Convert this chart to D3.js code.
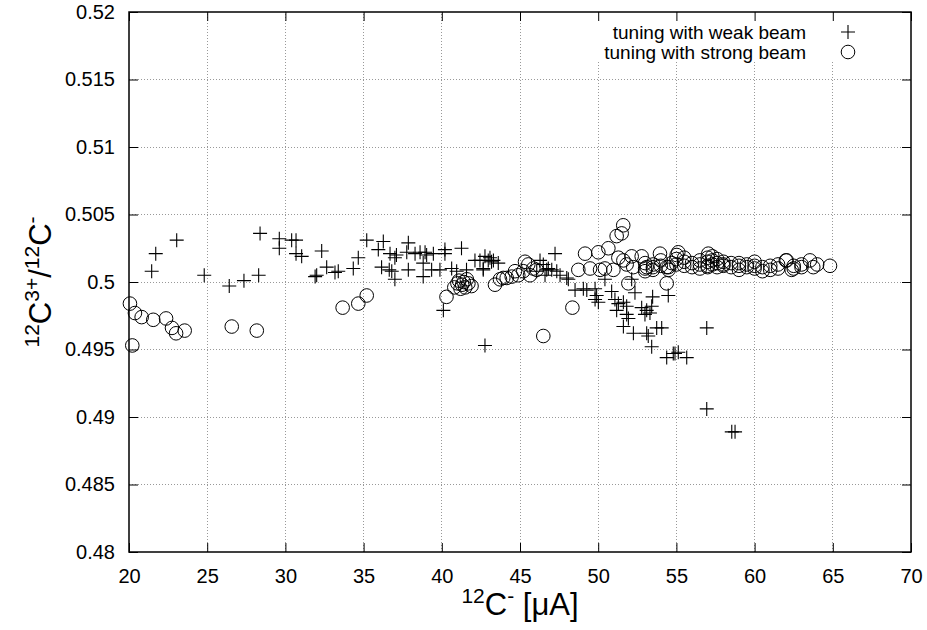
<!DOCTYPE html>
<html>
<head>
<meta charset="utf-8">
<script src="https://cdn.jsdelivr.net/npm/d3@7"></script>
<style>
  body { margin: 0; background: #fff; }
  svg { display: block; font-family: "Liberation Sans", Arial, sans-serif; }
</style>
</head>
<body>
<div id="chart"></div>
<script>
// ---- data: tuning with weak beam (+)
var weakCurrent = [21.45, 21.71, 23.05, 24.81, 26.41, 27.35, 28.29, 28.38, 29.61, 29.61,
    30.40, 30.68, 30.68, 31.04, 32.32, 32.0, 31.9, 32.64, 33.17, 33.38,
    34.34, 34.66, 35.2, 35.94, 36.26, 36.15, 36.69, 37.0, 37.1, 36.64,
    36.8, 37.0, 37.86, 37.76, 37.86, 38.29, 38.61, 38.93, 39.03, 39.46,
    38.81, 38.81, 39.35, 39.88, 40.2, 40.2, 41.26, 40.63, 40.95, 42.12,
    42.44, 42.97, 43.18, 41.58, 42.65, 40.1, 42.76, 42.76, 43.08, 43.3,
    43.61, 42.65, 47.24, 46.28, 46.49, 46.71, 47.03, 47.35, 47.56, 47.99,
    48.09, 46.07, 46.81, 46.6, 48.52, 49.05, 49.27, 49.8, 49.9, 49.8,
    50.01, 50.43, 50.86, 51.07, 51.29, 51.61, 51.82, 52.14, 52.35, 51.18,
    51.82, 51.93, 51.61, 52.25, 52.78, 53.1, 53.31, 53.42, 52.99, 53.1,
    53.2, 53.42, 53.74, 54.06, 53.48, 54.48, 54.38, 54.8, 54.91, 55.12,
    55.66, 56.94, 56.94, 58.54, 58.75];
var weakRatio = [0.5008, 0.5021, 0.5031, 0.5005, 0.4997, 0.5001, 0.5005, 0.5036, 0.5032, 0.5025,
    0.5031, 0.5031, 0.5021, 0.5019, 0.5023, 0.5005, 0.5004, 0.5011, 0.5007, 0.5008,
    0.5010, 0.5018, 0.5031, 0.5024, 0.5030, 0.5011, 0.5021, 0.5018, 0.5020, 0.5009,
    0.5008, 0.5002, 0.5029, 0.5022, 0.5009, 0.5021, 0.5022, 0.5022, 0.5020, 0.5021,
    0.5014, 0.5004, 0.5009, 0.5009, 0.5024, 0.5021, 0.5025, 0.5010, 0.5008, 0.5016,
    0.5016, 0.5016, 0.5015, 0.5009, 0.5009, 0.4979, 0.4953, 0.5019, 0.5018, 0.5016,
    0.5014, 0.5010, 0.5021, 0.5016, 0.5013, 0.5009, 0.5009, 0.5008, 0.5005, 0.5003,
    0.5002, 0.5008, 0.5010, 0.5005, 0.4994, 0.4995, 0.4994, 0.4995, 0.4990, 0.4987,
    0.4985, 0.5002, 0.4993, 0.4987, 0.4984, 0.4985, 0.4982, 0.5002, 0.4992, 0.4979,
    0.4976, 0.4973, 0.4967, 0.4962, 0.4981, 0.4979, 0.4977, 0.4982, 0.4976, 0.4962,
    0.4960, 0.4952, 0.4966, 0.4966, 0.4989, 0.4990, 0.4944, 0.4947, 0.4947, 0.4948,
    0.4944, 0.4966, 0.4906, 0.4889, 0.4889];

// ---- data: tuning with strong beam (o)
var strongCurrent = [20.06, 20.38, 20.81, 21.55, 22.37, 22.75, 23.01, 23.56, 20.21, 26.57,
    28.17, 33.66, 34.66, 35.2, 40.3, 40.8, 41.0, 41.1, 41.3, 41.4,
    41.5, 41.6, 41.7, 41.9, 41.2, 43.4, 43.72, 43.93, 44.15, 44.47,
    44.68, 44.89, 45.21, 45.32, 45.53, 45.64, 45.85, 46.07, 48.35, 46.49,
    48.73, 49.16, 49.48, 50.01, 50.12, 50.65, 50.43, 50.97, 51.29, 51.61,
    51.82, 52.14, 52.24, 52.78, 53.1, 53.52, 53.95, 54.38, 54.7, 55.02,
    51.6, 51.5, 51.18, 51.93, 54.38, 55.12, 57.04,
    53.0, 53.0, 53.0, 53.5, 53.5, 54.0, 54.0, 54.5, 54.5, 55.0,
    55.0, 55.5, 55.5, 55.5, 56.0, 56.0, 56.5, 56.5, 56.5, 57.0,
    57.0, 57.0, 57.0, 57.3, 57.3, 57.3, 57.6, 57.6, 57.6, 58.0,
    58.0, 58.0, 58.5, 58.5, 59.0, 59.0, 59.0, 59.5, 59.5, 60.0,
    60.0, 60.0, 60.5, 60.5, 61.0, 61.0, 61.5, 61.5, 62.0, 62.5,
    62.5, 63.0, 63.0, 64.0, 64.82, 63.54, 63.75, 62.05, 62.37];
var strongRatio = [0.4984, 0.4977, 0.4974, 0.4972, 0.4973, 0.4966, 0.4962, 0.4964, 0.4953, 0.4967,
    0.4964, 0.4981, 0.4984, 0.4990, 0.4989, 0.4996, 0.4999, 0.5001, 0.4998, 0.5000,
    0.4996, 0.5002, 0.4999, 0.4997, 0.4995, 0.4998, 0.5002, 0.5003, 0.5003, 0.5004,
    0.5008, 0.5005, 0.5008, 0.5015, 0.5013, 0.5005, 0.5010, 0.5009, 0.4981, 0.4960,
    0.5009, 0.5021, 0.5010, 0.5022, 0.5009, 0.5025, 0.5010, 0.5009, 0.5018, 0.5016,
    0.5013, 0.5019, 0.5011, 0.5019, 0.5011, 0.5013, 0.5021, 0.5011, 0.5014, 0.5020,
    0.5042, 0.5036, 0.5034, 0.4999, 0.4999, 0.5022, 0.5021,
    0.5010, 0.5014, 0.5008, 0.5011, 0.5009, 0.5012, 0.5016, 0.5011, 0.5009, 0.5013,
    0.5017, 0.5012, 0.5015, 0.5018, 0.5011, 0.5014, 0.5013, 0.5016, 0.5010, 0.5015,
    0.5018, 0.5012, 0.5011, 0.5013, 0.5016, 0.5019, 0.5014, 0.5011, 0.5017, 0.5012,
    0.5015, 0.5013, 0.5011, 0.5014, 0.5012, 0.5009, 0.5014, 0.5011, 0.5013, 0.5010,
    0.5015, 0.5012, 0.5011, 0.5008, 0.5012, 0.5009, 0.5013, 0.5010, 0.5016, 0.5012,
    0.5010, 0.5011, 0.5013, 0.5013, 0.5012, 0.5016, 0.5011, 0.5016, 0.5009];

var xTicks = [20, 25, 30, 35, 40, 45, 50, 55, 60, 65, 70];
var yTicks = [0.48, 0.485, 0.49, 0.495, 0.5, 0.505, 0.51, 0.515, 0.52];
var legendLabels = ['tuning with weak beam', 'tuning with strong beam'];

var chart_width  = 927;
var chart_height = 630;
var margin = { top: 12, right: 16, bottom: 78, left: 129 };

var svg = d3.select('#chart')
    .append('svg')
    .attr('width', chart_width)
    .attr('height', chart_height);

// scales
var x_scale = d3.scaleLinear()
    .domain([20, 70])
    .range([margin.left, chart_width - margin.right]);

var y_scale = d3.scaleLinear()
    .domain([0.48, 0.52])
    .range([chart_height - margin.bottom, margin.top]);

// grid (dotted)
var grid = svg.append('g').attr('class', 'grid');
grid.selectAll('line.gx')
    .data(xTicks.slice(1, -1))
    .enter().append('line')
    .attr('x1', function(d) { return x_scale(d); })
    .attr('x2', function(d) { return x_scale(d); })
    .attr('y1', y_scale(0.48))
    .attr('y2', y_scale(0.52));
grid.selectAll('line.gy')
    .data(yTicks.slice(1, -1))
    .enter().append('line')
    .attr('x1', x_scale(20))
    .attr('x2', x_scale(70))
    .attr('y1', function(d) { return y_scale(d); })
    .attr('y2', function(d) { return y_scale(d); });
grid.selectAll('line')
    .attr('stroke', '#999')
    .attr('stroke-width', 1)
    .attr('stroke-dasharray', '1,2')
    .attr('shape-rendering', 'crispEdges');

// legend background hides grid
svg.append('rect')
    .attr('x', 598)
    .attr('y', margin.top + 1)
    .attr('width', x_scale(70) - 599)
    .attr('height', 47)
    .attr('fill', '#fff');

// axes (ticks inward, mirrored)
var fmt = function(d) { return String(+d.toFixed(3)); };

svg.append('g')
    .attr('class', 'x-axis')
    .attr('transform', 'translate(0,' + y_scale(0.48) + ')')
    .call(d3.axisBottom(x_scale).tickValues(xTicks).tickSizeInner(-9).tickSizeOuter(0).tickPadding(17).tickFormat(fmt));

svg.append('g')
    .attr('transform', 'translate(0,' + y_scale(0.52) + ')')
    .call(d3.axisTop(x_scale).tickValues(xTicks).tickSizeInner(-9).tickSizeOuter(0).tickFormat(''));

svg.append('g')
    .attr('class', 'y-axis')
    .attr('transform', 'translate(' + x_scale(20) + ',0)')
    .call(d3.axisLeft(y_scale).tickValues(yTicks).tickSizeInner(-9).tickSizeOuter(0).tickPadding(14).tickFormat(fmt));

svg.append('g')
    .attr('transform', 'translate(' + x_scale(70) + ',0)')
    .call(d3.axisRight(y_scale).tickValues(yTicks).tickSizeInner(-9).tickSizeOuter(0).tickFormat(''));

svg.selectAll('.domain').remove();
svg.selectAll('.tick line').attr('stroke', '#000').attr('stroke-width', 1);
svg.selectAll('.tick text')
    .attr('fill', '#000')
    .style('font-size', '20px')
    .style('font-family', '"Liberation Sans", Arial, sans-serif');

// frame
svg.append('rect')
    .attr('x', x_scale(20))
    .attr('y', y_scale(0.52))
    .attr('width', x_scale(70) - x_scale(20))
    .attr('height', y_scale(0.48) - y_scale(0.52))
    .attr('fill', 'none')
    .attr('stroke', '#000')
    .attr('stroke-width', 1.5);

// points
var weak = weakCurrent.map(function(d, i) { return [d, weakRatio[i]]; });
var strong = strongCurrent.map(function(d, i) { return [d, strongRatio[i]]; });

svg.append('g')
    .selectAll('path')
    .data(weak)
    .enter().append('path')
    .attr('transform', function(d) { return 'translate(' + x_scale(d[0]) + ',' + y_scale(d[1]) + ')'; })
    .attr('d', 'M-7,0H7M0,-7V7')
    .attr('stroke', '#000')
    .attr('stroke-width', 1.1)
    .attr('fill', 'none');

svg.append('g')
    .selectAll('circle')
    .data(strong)
    .enter().append('circle')
    .attr('cx', function(d) { return x_scale(d[0]); })
    .attr('cy', function(d) { return y_scale(d[1]); })
    .attr('r', 6.8)
    .attr('stroke', '#000')
    .attr('stroke-width', 1)
    .attr('fill', 'none');

// legend
var legend = svg.append('g').attr('class', 'legend');
legend.selectAll('text')
    .data(legendLabels)
    .enter().append('text')
    .attr('x', 806)
    .attr('y', function(d, i) { return 39 + i * 20; })
    .attr('text-anchor', 'end')
    .style('font-size', '19px')
    .text(function(d) { return d; });
legend.append('path')
    .attr('d', 'M841,32H855M848,25V39')
    .attr('stroke', '#000')
    .attr('stroke-width', 1.1);
legend.append('circle')
    .attr('cx', 848)
    .attr('cy', 52)
    .attr('r', 6.8)
    .attr('fill', 'none')
    .attr('stroke', '#000');

// x title
var xt = svg.append('text')
    .attr('x', 520)
    .attr('y', 615)
    .attr('text-anchor', 'middle')
    .style('font-size', '31px');
xt.append('tspan').attr('dy', -12).style('font-size', '21px').text('12');
xt.append('tspan').attr('dy', 12).text('C');
xt.append('tspan').attr('dy', -12).style('font-size', '21px').text('-');
xt.append('tspan').attr('dy', 12).text(' [\u03bcA]');

// y title
var yt = svg.append('text')
    .attr('transform', 'translate(51,282) rotate(-90)')
    .attr('text-anchor', 'middle')
    .style('font-size', '31px');
yt.append('tspan').attr('dy', -12).style('font-size', '21px').text('12');
yt.append('tspan').attr('dy', 12).text('C');
yt.append('tspan').attr('dy', -12).style('font-size', '21px').text('3+');
yt.append('tspan').attr('dy', 12).text('/');
yt.append('tspan').attr('dy', -12).style('font-size', '21px').text('12');
yt.append('tspan').attr('dy', 12).text('C');
yt.append('tspan').attr('dy', -12).style('font-size', '21px').text('-');
</script>
</body>
</html>
